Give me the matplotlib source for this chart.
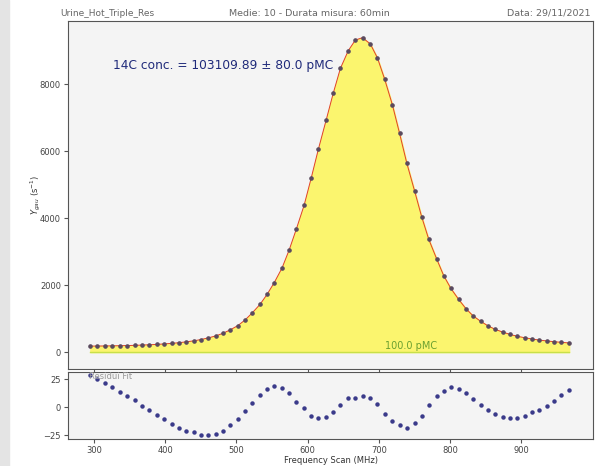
import matplotlib.pyplot as plt
from matplotlib.patches import Rectangle

# Dati
freq = [295, 305, 316, 326, 336, 347, 357, 367, 378, 388, 398, 409, 419,
        429, 440, 450, 460, 471, 481, 491, 502, 512, 522, 533, 543, 553,
        564, 574, 584, 595, 605, 615, 626, 636, 646, 657, 667, 677, 688,
        698, 708, 719, 729, 739, 750, 760, 770, 781, 791, 801, 812, 822,
        832, 843, 853, 863, 874, 884, 894, 905, 915, 925, 936, 946, 956, 967]
conteggi = [178, 180, 183, 186, 190, 195, 201, 209, 218, 229, 243, 259, 279,
            304, 335, 373, 421, 482, 560, 660, 790, 955, 1165, 1420, 1720, 2070,
            2507, 3045, 3663, 4379, 5194, 6050, 6925, 7731, 8468, 8994, 9313,
            9382, 9194, 8776, 8149, 7373, 6528, 5651, 4815, 4039, 3364, 2785,
            2278, 1900, 1570, 1300, 1085, 915, 785, 680, 595, 528, 472, 427,
            390, 358, 332, 310, 291, 272]
residui = [28.9, 25.3, 21.4, 17.9, 13.7, 9.8, 6.0, 1.5, -2.7, -6.5, -10.7,
           -14.6, -18.2, -20.8, -22.0, -25.0, -25.0, -23.8, -20.8, -16.1,
           -10.4, -3.6, 4.2, 10.7, 15.8, 19.0, 17.3, 13.1, 4.8, -0.6, -7.4,
           -9.8, -8.3, -4.5, 2.4, 8.0, 8.3, 10.4, 8.0, 3.3, -5.7, -12.5,
           -16.1, -18.5, -14.3, -7.7, 2.4, 9.8, 14.3, 17.6, 16.4, 12.8, 7.1,
           1.8, -2.4, -6.0, -8.3, -9.8, -9.8, -7.7, -4.5, -2.4, 1.2, 5.7,
           11.3, 15.2]

nome = 'Urine_Hot_Triple_Res'
info = 'Medie: 10 - Durata misura: 60min'
data_misura = 'Data: 29/11/2021'
concentrazione = '14C conc. = 103109.89 \u00b1 80.0 pMC'

fig = plt.figure(figsize=(6.01, 4.66), dpi=100)
fig.patches.append(Rectangle((0, 0), 9 / 601, 1, transform=fig.transFigure,
                             color='#e4e4e4', zorder=0))

ax = fig.add_axes([0.113, 0.208, 0.874, 0.747])
ax_res = fig.add_axes([0.113, 0.058, 0.874, 0.144], sharex=ax)

for a in (ax, ax_res):
    a.set_facecolor('#f4f4f4')
    for s in a.spines.values():
        s.set_color('#555555')
    a.tick_params(labelsize=6, colors='#555555', length=3, pad=2,
                  labelcolor='#444444')

# Picco
ax.fill_between(freq, 0, conteggi, color='#fbf56e', zorder=1)
ax.plot([freq[0], freq[-1]], [0, 0], color='#c8e04a', lw=1, zorder=2)
ax.plot(freq, conteggi, color='#e0402a', lw=0.7, zorder=3)
ax.plot(freq, conteggi, 'o', color='#5a4a5e', ms=2.3, zorder=4)
ax.text(327, 8540, concentrazione, color='#1f2a7a', fontsize=8.8, va='center')
ax.text(709, 20, '100.0 pMC', color='#6aa030', fontsize=7, va='bottom')
ax.set_ylim(-507, 9881)
ax.set_yticks([0, 2000, 4000, 6000, 8000])
ax.set_ylabel(r'$Y_{gau}$ (s$^{-1}$)', fontsize=6, color='#333333', labelpad=-2)
ax.tick_params(axis='x', labelbottom=False)

# Residui
ax_res.plot(freq, residui, 'o', color='#3a3a8a', ms=2.2)
ax_res.text(293, 27, 'Residui Fit', color='#999999', fontsize=6, va='center')
ax_res.set_ylim(-28.3, 31.5)
ax_res.set_yticks([-25, 0, 25])
ax_res.set_xlim(263.5, 1000.8)
ax_res.set_xticks([300, 400, 500, 600, 700, 800, 900])
ax_res.set_xlabel('Frequency Scan (MHz)', fontsize=6, color='#333333', labelpad=1)

fig.text(0.1, 0.972, nome, fontsize=6.5, color='#666666', va='center')
fig.text(0.515, 0.972, info, fontsize=6.8, color='#666666', va='center', ha='center')
fig.text(0.983, 0.972, data_misura, fontsize=6.8, color='#666666', va='center', ha='right')

fig.savefig('out.png', dpi=100)
